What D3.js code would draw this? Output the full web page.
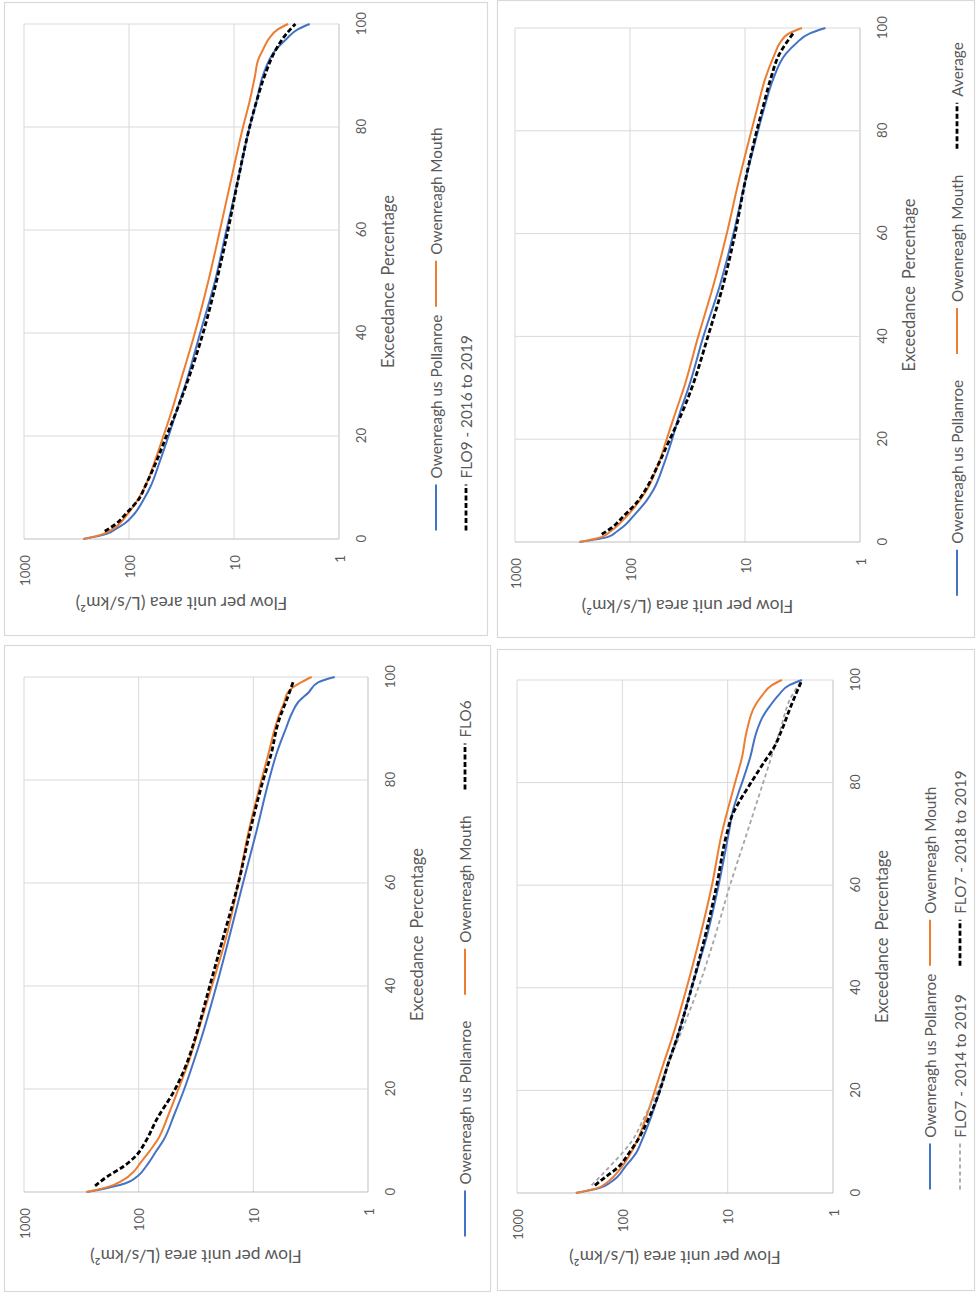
<!DOCTYPE html>
<html><head><meta charset="utf-8">
<script src="https://cdn.jsdelivr.net/npm/d3@7"></script>
<style>
body{margin:0;background:#fff}
text{font-family:Lato,'Open Sans',sans-serif;fill:#595959}
</style>
</head><body>
<svg id="c" width="977" height="1297"></svg>
<script>
// ---------- tick labels / text ----------
const xTicks = [0, 20, 40, 60, 80, 100];
const yTicks = [1, 10, 100, 1000];
const xTitle = "Exceedance Percentage";
const yTitle = "Flow per unit area (L/s/km²)";
const nameUpstream = "Owenreagh us Pollanroe";
const nameMouth = "Owenreagh Mouth";

// ---------- FLO9 panel (top-left) ----------
const flo9Upstream = [[0,272],[1,163],[2,132],[3,110],[5,88],[8,71],[10,63],[15,51],[20,42],[25,35],[30,29],[40,21],[50,15.2],[60,11.8],[70,9.1],[80,7.1],[85,6.1],[90,5.3],[95,4.0],[97,3.2],[99,2.45],[100,1.9]];
const flo9Mouth = [[0,272],[1,175],[2,141],[5,102],[10,71],[15,57],[20,47],[25,39],[30,33],[40,23.6],[50,17.6],[60,13.6],[70,10.6],[80,8.2],[85,7.1],[90,6.3],[93,5.9],[95,5.3],[97,4.7],[99,3.8],[100,3.05]];
const flo9Gauge = [[1.5,170],[3,132],[5,106],[8,79],[10,71],[15,55],[20,44],[25,35],[30,28.4],[40,19.7],[50,14.7],[60,11.4],[70,9.1],[80,7.1],[85,6.1],[90,5.1],[95,4.0],[98,3.2],[100,2.6]];

// ---------- FLO6 panel (bottom-left) ----------
const flo6Upstream = [[0,285],[0.5,215],[1,170],[1.7,130],[3,103],[5,86],[8,70],[10,61],[15,49],[20,40],[25,33.5],[30,28.3],[40,21],[50,16],[60,12.3],[70,9.4],[80,7.3],[85,6.3],[90,5.2],[93,4.6],[95,4.1],[97,3.3],[99,2.7],[100,1.95]];
const flo6Mouth = [[0,285],[0.5,225],[1,185],[2.3,137],[4,110],[5.6,97],[8,80],[10,69],[15,55],[20,45],[25,37],[30,31.5],[40,23],[50,17],[60,13.5],[70,11],[80,8.5],[85,7.4],[90,6.5],[92,6.1],[95,5.4],[97,5.0],[98,4.5],[99,3.8],[100,3.1]];
const flo6Gauge = [[1.2,240],[3,188],[5,135],[7,106],[10,86],[14,70],[20,48],[25,38],[30,32],[40,24],[50,18],[60,13.5],[70,10.7],[80,8.2],[85,7.0],[91,6.1],[96.7,4.9],[99,4.5]];

// ---------- Average panel (top-right) ----------
const avgUpstream = [[0,275],[1,155],[2,131],[3,114],[5,94],[8,72],[10,63],[15,51],[20,43],[25,37],[30,31],[40,23],[50,16.5],[60,12.6],[70,10],[80,7.7],[85,6.7],[90,5.7],[95,4.4],[97,3.6],[99,2.7],[100,2.0]];
const avgMouth = [[0,275],[1,175],[2,149],[5,107],[10,72],[15,57],[20,48],[25,40.5],[30,34],[40,25.5],[50,18.8],[60,14.4],[70,11.4],[80,8.8],[85,7.7],[90,6.7],[95,5.5],[97,5.0],[99,4.1],[100,3.2]];
const avgGauge = [[1.5,176],[3,140],[5,114],[8,85],[10,74],[15,57],[20,45],[25,35.5],[30,29],[40,21],[50,15.5],[60,12.2],[70,10],[80,7.9],[85,6.9],[90,6.0],[95,5.0],[99,3.8]];

// ---------- FLO7 panel (bottom-right) ----------
const flo7Upstream = [[0,276],[1,163],[2,131],[3,113],[5,95],[8,73],[10,66],[15,53],[20,44],[25,37],[30,30.5],[40,22],[50,15.8],[60,12.2],[70,9.8],[75,8.8],[78,7.9],[80,7.3],[85,6.1],[90,5.3],[93,4.6],[95,3.95],[97,3.3],[99,2.6],[100,1.97]];
const flo7Mouth = [[0,276],[1,170],[2,141],[5,102],[10,73],[15,59],[20,49],[25,41],[30,34],[40,24.5],[50,18.3],[60,14.1],[70,11.4],[80,8.5],[85,7.3],[90,6.6],[95,5.5],[97,4.7],[99,3.8],[100,3.06]];
const flo7Long = [[1.5,196],[5,134],[10,82],[15,61],[20,46],[25,37],[30,29.4],[40,19],[50,13.2],[60,9.5],[70,6.6],[80,4.6],[90,3.2],[97,2.45],[100,1.97]];
const flo7Short = [[1.5,182],[3,147],[5,110],[8,85],[10,73],[15,55],[20,44],[25,37],[30,30.5],[40,22],[50,16.4],[60,12.7],[70,10.2],[74,8.9],[76,7.9],[80,6.0],[84,4.5],[87,3.6],[90,3.1],[95,2.5],[100,1.97]];

// ---------- styles ----------
const sBlue = {stroke:'#4472C4', width:2, dash:null};
const sOrange = {stroke:'#ED7D31', width:2, dash:null};
const sBlack = {stroke:'#000000', width:2.8, dash:'5,2.5'};
const sGrey = {stroke:'#A5A5A5', width:1.8, dash:'4,3'};

const svg = d3.select('#c');
function fit(str, target){
  const t = svg.append('text').attr('font-size',100).text(str);
  const w = t.node().getComputedTextLength(); t.remove();
  return 100*target/w;
}
const tickFs = fit('1000', 31);
const legFs = fit(nameUpstream, 164);
const xtFs = fit(xTitle, 170);
const ytFs = fit(yTitle, 212);

const panels = [
  {x0:4, y0:2, w:484, h:634, pl:97, pr:612, pt:20, pb:335,
   series:[{d:flo9Upstream,s:sBlue,n:nameUpstream},{d:flo9Mouth,s:sOrange,n:nameMouth},{d:flo9Gauge,s:sBlack,n:"FLO9 - 2016 to 2019"}],
   legend:[[0,1],[2]]},
  {x0:4, y0:645, w:487, h:647, pl:100, pr:615, pt:20, pb:364,
   series:[{d:flo6Upstream,s:sBlue,n:nameUpstream},{d:flo6Mouth,s:sOrange,n:nameMouth},{d:flo6Gauge,s:sBlack,n:"FLO6"}],
   legend:[[0,1,2]]},
  {x0:497, y0:0, w:478, h:638, pl:96, pr:610, pt:18, pb:363,
   series:[{d:avgUpstream,s:sBlue,n:nameUpstream},{d:avgMouth,s:sOrange,n:nameMouth},{d:avgGauge,s:sBlack,n:"Average"}],
   legend:[[0,1,2]]},
  {x0:497, y0:649, w:478, h:642, pl:98, pr:611, pt:20, pb:336,
   series:[{d:flo7Upstream,s:sBlue,n:nameUpstream},{d:flo7Mouth,s:sOrange,n:nameMouth},{d:flo7Long,s:sGrey,n:"FLO7 - 2014 to 2019"},{d:flo7Short,s:sBlack,n:"FLO7 - 2018 to 2019"}],
   legend:[[0,1],[2,3]]}
];

function textW(str, fs){
  const t = svg.append('text').attr('font-size',fs).text(str);
  const w = t.node().getComputedTextLength(); t.remove(); return w;
}

panels.forEach(p=>{
  const W = p.h, H = p.w;
  const g = svg.append('g').attr('transform',`translate(${p.x0},${p.y0+p.h}) rotate(-90)`);
  g.append('rect').attr('x',0.5).attr('y',0.5).attr('width',W-1).attr('height',H-1)
   .attr('fill','#fff').attr('stroke','#d9d9d9').attr('stroke-width',1.2);
  const x = d3.scaleLinear().domain([0,100]).range([p.pl,p.pr]);
  const y = d3.scaleLog().domain([1,1000]).range([p.pb,p.pt]);
  // grid
  g.append('g').selectAll('line').data(yTicks).join('line')
   .attr('x1',p.pl).attr('x2',p.pr).attr('y1',d=>y(d)).attr('y2',d=>y(d))
   .attr('stroke',d=>d===1?'#bfbfbf':'#d9d9d9').attr('stroke-width',1);
  g.append('g').selectAll('line').data(xTicks).join('line')
   .attr('y1',p.pt).attr('y2',p.pb).attr('x1',d=>x(d)).attr('x2',d=>x(d))
   .attr('stroke',d=>d===0?'#bfbfbf':'#d9d9d9').attr('stroke-width',1);
  // axes labels
  const ax = d3.axisBottom(x).tickValues(xTicks).tickSize(0).tickPadding(0).tickFormat(d3.format('d'));
  const gx = g.append('g').attr('transform',`translate(0,${p.pb+22})`).call(ax);
  gx.select('.domain').remove();
  gx.selectAll('text').attr('dy',null).attr('dominant-baseline','central').attr('font-size',tickFs)
    .attr('fill','#595959').attr('font-family',"Lato,'Open Sans',sans-serif");
  const ay = d3.axisLeft(y).tickValues(yTicks).tickSize(0).tickPadding(16).tickFormat(d3.format('d'));
  const gy = g.append('g').attr('transform',`translate(${p.pl},0)`).call(ay);
  gy.select('.domain').remove();
  gy.selectAll('text').attr('dy',null).attr('dominant-baseline','central').attr('font-size',tickFs)
    .attr('fill','#595959').attr('font-family',"Lato,'Open Sans',sans-serif");
  // titles
  g.append('text').attr('x',(p.pl+p.pr)/2).attr('y',p.pb+49).attr('text-anchor','middle')
   .attr('dominant-baseline','central').attr('font-size',xtFs).attr('word-spacing',3).text(xTitle);
  g.append('text').attr('transform',`translate(${p.pl-64},${(p.pt+p.pb)/2}) rotate(-90)`)
   .attr('text-anchor','middle').attr('dominant-baseline','central').attr('font-size',ytFs).text(yTitle);
  // series
  const line = d3.line().x(d=>x(d[0])).y(d=>y(d[1])).curve(d3.curveMonotoneX);
  p.series.forEach(s=>{
    g.append('path').attr('d',line(s.d)).attr('fill','none').attr('stroke',s.s.stroke)
     .attr('stroke-width',s.s.width).attr('stroke-dasharray',s.s.dash).attr('stroke-linejoin','round');
  });
  // legend
  const LL = 46, LG = 6;
  const rowsV = p.legend.length===1 ? [p.pb+97] : [p.pb+97, p.pb+127];
  let positions = [];
  if (p.legend.length===1){
    const items = p.legend[0];
    const widths = items.map(i=>LL+LG+textW(p.series[i].n,legFs));
    const total = d3.sum(widths)+26*(items.length-1);
    let u = W/2 - total/2;
    items.forEach((i,k)=>{ positions.push({i,u,v:rowsV[0]}); u += widths[k]+26; });
  } else {
    const ncol = 2;
    const colW = d3.range(ncol).map(c=>d3.max(p.legend,r=>r[c]===undefined?0:LL+LG+textW(p.series[r[c]].n,legFs)));
    const total = colW[0]+8+colW[1];
    const u0 = W/2 - total/2 - 10;
    p.legend.forEach((r,ri)=>r.forEach((i,c)=>{
      positions.push({i,u:u0+(c===0?0:colW[0]+8),v:rowsV[ri]});
    }));
  }
  positions.forEach(o=>{
    const s = p.series[o.i];
    g.append('line').attr('x1',o.u).attr('x2',o.u+LL).attr('y1',o.v).attr('y2',o.v)
     .attr('stroke',s.s.stroke).attr('stroke-width',s.s.width).attr('stroke-dasharray',s.s.dash);
    g.append('text').attr('x',o.u+LL+LG).attr('y',o.v).attr('dominant-baseline','central')
     .attr('font-size',legFs).text(s.n);
  });
});
</script>
</body></html>
